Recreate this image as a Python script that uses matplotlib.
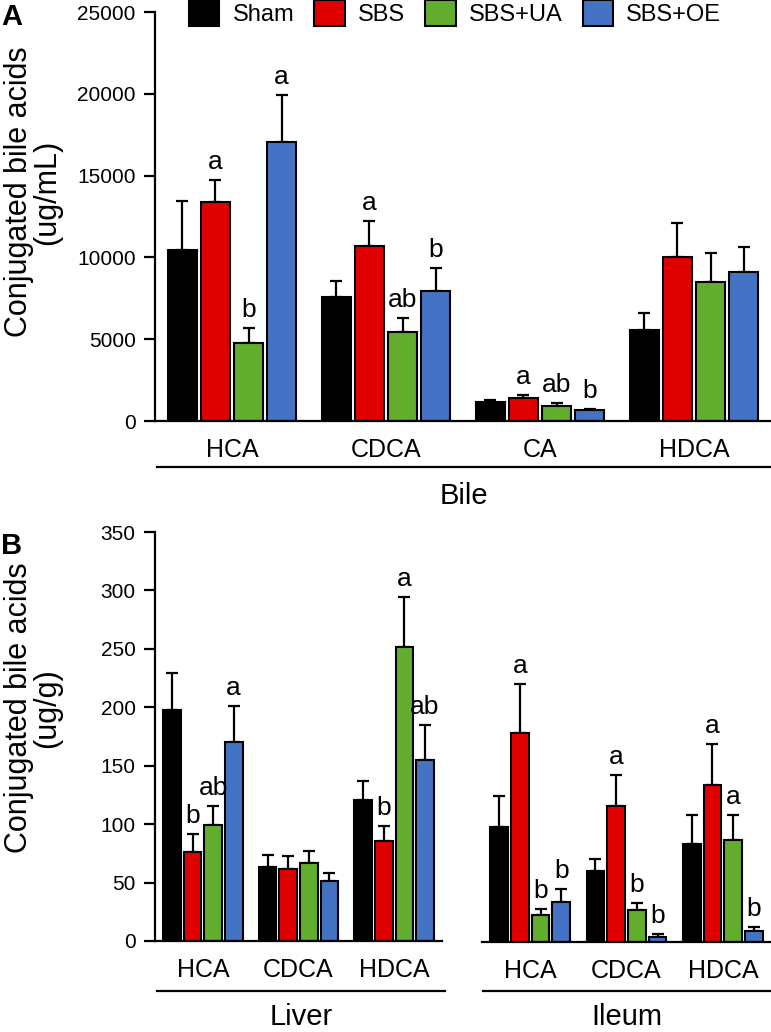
import matplotlib
matplotlib.use("Agg")
import matplotlib.pyplot as plt
from matplotlib.patches import Patch
import numpy as np

plt.rcParams['font.family'] = ['Liberation Sans', 'DejaVu Sans']

groups = ["Sham", "SBS", "SBS+UA", "SBS+OE"]
colors = ["#000000", "#E00000", "#62AC2E", "#4472C4"]

# Panel A: Bile (ug/mL)
bile_cats = ["HCA", "CDCA", "CA", "HDCA"]
bile_mean = {
    "Sham":   [10450, 7580, 1180, 5560],
    "SBS":    [13370, 10710, 1380, 10040],
    "SBS+UA": [4750, 5420, 900, 8480],
    "SBS+OE": [17030, 7960, 650, 9130],
}
bile_top = {
    "Sham":   [13470, 8580, 1300, 6620],
    "SBS":    [14710, 12220, 1610, 12080],
    "SBS+UA": [5670, 6280, 1080, 10250],
    "SBS+OE": [19930, 9370, 710, 10610],
}
bile_letters = {
    "Sham":   ["", "", "", ""],
    "SBS":    ["a", "a", "a", ""],
    "SBS+UA": ["b", "ab", "ab", ""],
    "SBS+OE": ["a", "b", "b", ""],
}

# Panel B: Liver and Ileum (ug/g)
tis_cats = ["HCA", "CDCA", "HDCA"]
liver_mean = {
    "Sham":   [198, 63.5, 121],
    "SBS":    [76, 62, 85.5],
    "SBS+UA": [99.5, 66.5, 251.5],
    "SBS+OE": [170, 51.5, 154.5],
}
liver_top = {
    "Sham":   [229, 74, 137],
    "SBS":    [91.5, 73, 98],
    "SBS+UA": [115.5, 77, 294],
    "SBS+OE": [201, 58, 184.5],
}
liver_letters = {
    "Sham":   ["", "", ""],
    "SBS":    ["b", "", "b"],
    "SBS+UA": ["ab", "", "a"],
    "SBS+OE": ["a", "", "ab"],
}
ileum_mean = {
    "Sham":   [98, 60.5, 84],
    "SBS":    [178, 116.5, 134],
    "SBS+UA": [23, 27.5, 87.5],
    "SBS+OE": [34, 4.5, 9.5],
}
ileum_top = {
    "Sham":   [124.5, 71, 108.5],
    "SBS":    [220, 142.5, 169],
    "SBS+UA": [28, 33, 108.5],
    "SBS+OE": [45, 6.5, 12.5],
}
ileum_letters = {
    "Sham":   ["", "", ""],
    "SBS":    ["a", "a", "a"],
    "SBS+UA": ["b", "b", "a"],
    "SBS+OE": ["b", "b", "b"],
}

W, H = 771, 1032
fig = plt.figure(figsize=(W / 100, H / 100), dpi=100)

def px_axes(x0, x1, ytop, ybot):
    return fig.add_axes([x0 / W, 1 - ybot / H, (x1 - x0) / W, (ybot - ytop) / H])

PITCH = 0.215
BW = 0.185
LW = 1.5

def draw(ax, cats, mean, top, letters, show_y=True):
    x = np.arange(len(cats))
    for i, g in enumerate(groups):
        xi = x + (i - 1.5) * PITCH
        m = np.array(mean[g], dtype=float)
        t = np.array(top[g], dtype=float)
        ax.errorbar(xi, m, yerr=[np.zeros_like(m), t - m], fmt='none',
                    ecolor='black', elinewidth=1.6, capsize=4.5, capthick=1.6,
                    zorder=1)
        ax.bar(xi, m, width=BW, color=colors[i], edgecolor='black',
               linewidth=LW, zorder=2)
        for xx, tt, lab in zip(xi, t, letters[g]):
            if lab:
                ax.annotate(lab, (xx, tt), xytext=(0, 8), textcoords='offset points',
                            ha='center', va='baseline', fontsize=19)
    ax.set_xlim(-0.5, len(cats) - 0.5)
    ax.set_xticks(x)
    ax.set_xticklabels(cats, fontsize=18)
    ax.tick_params(axis='x', length=0, pad=12)
    for s in ['top', 'right']:
        ax.spines[s].set_visible(False)
    ax.spines['bottom'].set_linewidth(1.6)
    if show_y:
        ax.spines['left'].set_linewidth(1.6)
        ax.tick_params(axis='y', direction='out', length=8, width=1.6,
                       labelsize=15, pad=6)
    else:
        ax.spines['left'].set_visible(False)
        ax.set_yticks([])

# Panel A
axA = px_axes(155, 771, 12, 421)
draw(axA, bile_cats, bile_mean, bile_top, bile_letters)
axA.set_ylim(0, 25000)
axA.set_yticks(np.arange(0, 25001, 5000))

# Panel B
axL = px_axes(155, 442, 532, 941)
draw(axL, tis_cats, liver_mean, liver_top, liver_letters)
axL.set_ylim(0, 350)
axL.set_yticks(np.arange(0, 351, 50))

axI = px_axes(482, 771, 532, 942)
draw(axI, tis_cats, ileum_mean, ileum_top, ileum_letters, show_y=False)
axI.set_ylim(0, 350)

# group underlines and names
def underline(x0, x1, y, label, ty):
    fig.add_artist(plt.Line2D([x0 / W, x1 / W], [1 - y / H, 1 - y / H],
                              color='black', lw=1.6))
    fig.text((x0 + x1) / 2 / W, 1 - ty / H, label, ha='center', va='center',
             fontsize=21)

underline(157, 771, 467, "Bile", 496)
underline(157, 445, 991, "Liver", 1017)
underline(483, 771, 991, "Ileum", 1017)

# Y labels
fig.text(19 / W, 1 - 192 / H, "Conjugated bile acids", rotation=90,
         ha='center', va='center', fontsize=22)
fig.text(47 / W, 1 - 192 / H, "(ug/mL)", rotation=90,
         ha='center', va='center', fontsize=22)
fig.text(19 / W, 1 - 708 / H, "Conjugated bile acids", rotation=90,
         ha='center', va='center', fontsize=22)
fig.text(47 / W, 1 - 708 / H, "(ug/g)", rotation=90,
         ha='center', va='center', fontsize=22)

# Panel letters
fig.text(1 / W, 1 - 17 / H, "A", fontsize=21, fontweight='bold', ha='left', va='center')
fig.text(1 / W, 1 - 546 / H, "B", fontsize=21, fontweight='bold', ha='left', va='center')

# Legend
handles = [Patch(facecolor=c, edgecolor='black', linewidth=1.5) for c in colors]
fig.legend(handles, groups, loc='upper center', bbox_to_anchor=(455 / W, 1.0),
           ncol=4, frameon=False, fontsize=17, handlelength=1.3,
           handleheight=1.3, handletextpad=0.55, columnspacing=0.85,
           borderpad=0.0, borderaxespad=0.0)

fig.savefig("out.png", dpi=100)
